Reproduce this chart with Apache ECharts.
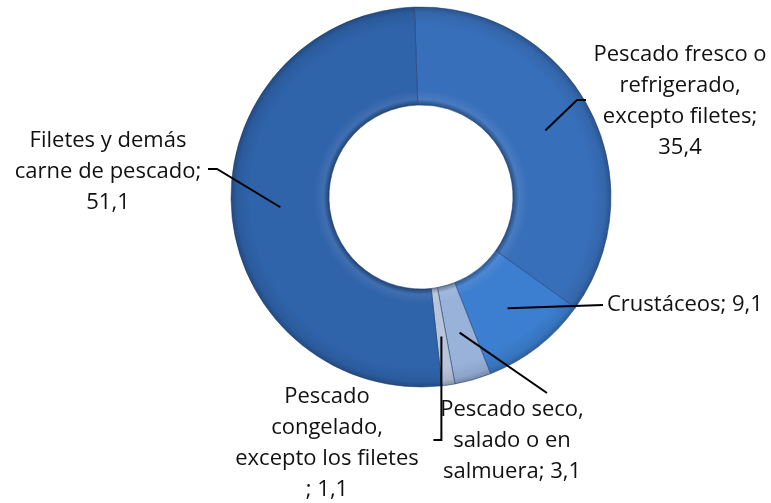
<!DOCTYPE html>
<html>
<head>
<meta charset="utf-8">
<script src="https://cdn.jsdelivr.net/npm/echarts@6/dist/echarts.min.js"></script>
<style>
  html, body { margin: 0; padding: 0; background: #ffffff; }
  #chart-view { width: 771px; height: 503px; }
</style>
</head>
<body>
<div id="chart-view"></div>
<script>
  // data
  const categories = [
    'Pescado fresco o\nrefrigerado,\nexcepto filetes',
    'Crustáceos',
    'Pescado seco,\nsalado o en\nsalmuera',
    'Pescado\ncongelado,\nexcepto los filetes\n',
    'Filetes y demás\ncarne de pescado'
  ]
  const values = [35.4, 9.1, 3.1, 1.1, 51.1]
  const separators = [';\n', '; ', '; ', '; ', ';\n']
  const sliceColors = ['#386fba', '#3c7ecf', '#98b2da', '#b7c4da', '#2f63aa']

  // layout
  const cx = 421, cy = 197, rIn = 92, rOut = 190
  const startAngle = 92
  const labelPos = [
    { x: 680, y: 101, align: 'center' },
    { x: 607, y: 305, align: 'left' },
    { x: 512, y: 441, align: 'center' },
    { x: 327, y: 443, align: 'center' },
    { x: 108, y: 172, align: 'center' }
  ]

  function shade(hex, f) {
    let n = parseInt(hex.slice(1), 16)
    let r = (n >> 16) & 255, g = (n >> 8) & 255, b = n & 255
    const m = v => Math.max(0, Math.min(255, Math.round(f < 0 ? v * (1 + f) : v + (255 - v) * f)))
    return 'rgb(' + m(r) + ',' + m(g) + ',' + m(b) + ')'
  }

  function bevel(hex) {
    const k = rIn / rOut
    return {
      type: 'radial', x: cx, y: cy, r: rOut, global: true,
      colorStops: [
        { offset: 0, color: hex },
        { offset: k, color: shade(hex, -0.3) },
        { offset: k + 0.03, color: shade(hex, 0.08) },
        { offset: k + 0.08, color: hex },
        { offset: 0.9, color: hex },
        { offset: 0.97, color: shade(hex, -0.08) },
        { offset: 1, color: shade(hex, -0.25) }
      ]
    }
  }

  // mid angle of each slice (clockwise from 12 o'clock)
  const total = values.reduce((a, b) => a + b, 0)
  const midAngles = []
  let acc = 0
  values.forEach(v => {
    midAngles.push((90 - startAngle) + (acc + v / 2) / total * 360)
    acc += v
  })

  // leader line: starts in the middle of the ring, ends next to the label
  function leader(i) {
    const rm = (rIn + rOut) / 2
    const a = midAngles[i] * Math.PI / 180
    const s = [cx + rm * Math.sin(a), cy - rm * Math.cos(a)]
    if (i === 0) return [s, [577, 100], [586, 100]]
    if (i === 1) return [s, [603, 305]]
    if (i === 2) return [s, [547, 393]]
    if (i === 3) return [s, [s[0], 440], [s[0] - 8, 440]]
    return [s, [217, 169], [208, 169]]
  }

  let chartLine = echarts.init(document.getElementById('chart-view'))
  let option = {
    animation: false,
    graphic: values.map((v, i) => ({
      type: 'polyline',
      z: 100,
      silent: true,
      shape: { points: leader(i) },
      style: { stroke: '#000000', lineWidth: 2, fill: null }
    })),
    series: [
      {
        type: 'pie',
        center: [cx, cy],
        radius: [rIn, rOut],
        startAngle: startAngle,
        clockwise: true,
        avoidLabelOverlap: false,
        data: values.map((v, i) => ({
          name: categories[i],
          value: v,
          itemStyle: { color: bevel(sliceColors[i]) }
        })),
        itemStyle: {
          borderColor: 'rgba(30,60,110,0.55)',
          borderWidth: 1
        },
        label: {
          show: true,
          position: 'outside',
          color: '#111111',
          fontFamily: 'Open Sans',
          fontSize: 22,
          lineHeight: 31,
          formatter: p => p.name + separators[p.dataIndex] + String(p.value).replace('.', ',')
        },
        labelLine: { show: false },
        labelLayout: p => {
          const l = labelPos[p.dataIndex]
          return {
            x: l.x,
            y: l.y,
            align: l.align,
            verticalAlign: 'middle'
          }
        }
      }
    ]
  }
  chartLine.setOption(option)
</script>
</body>
</html>
